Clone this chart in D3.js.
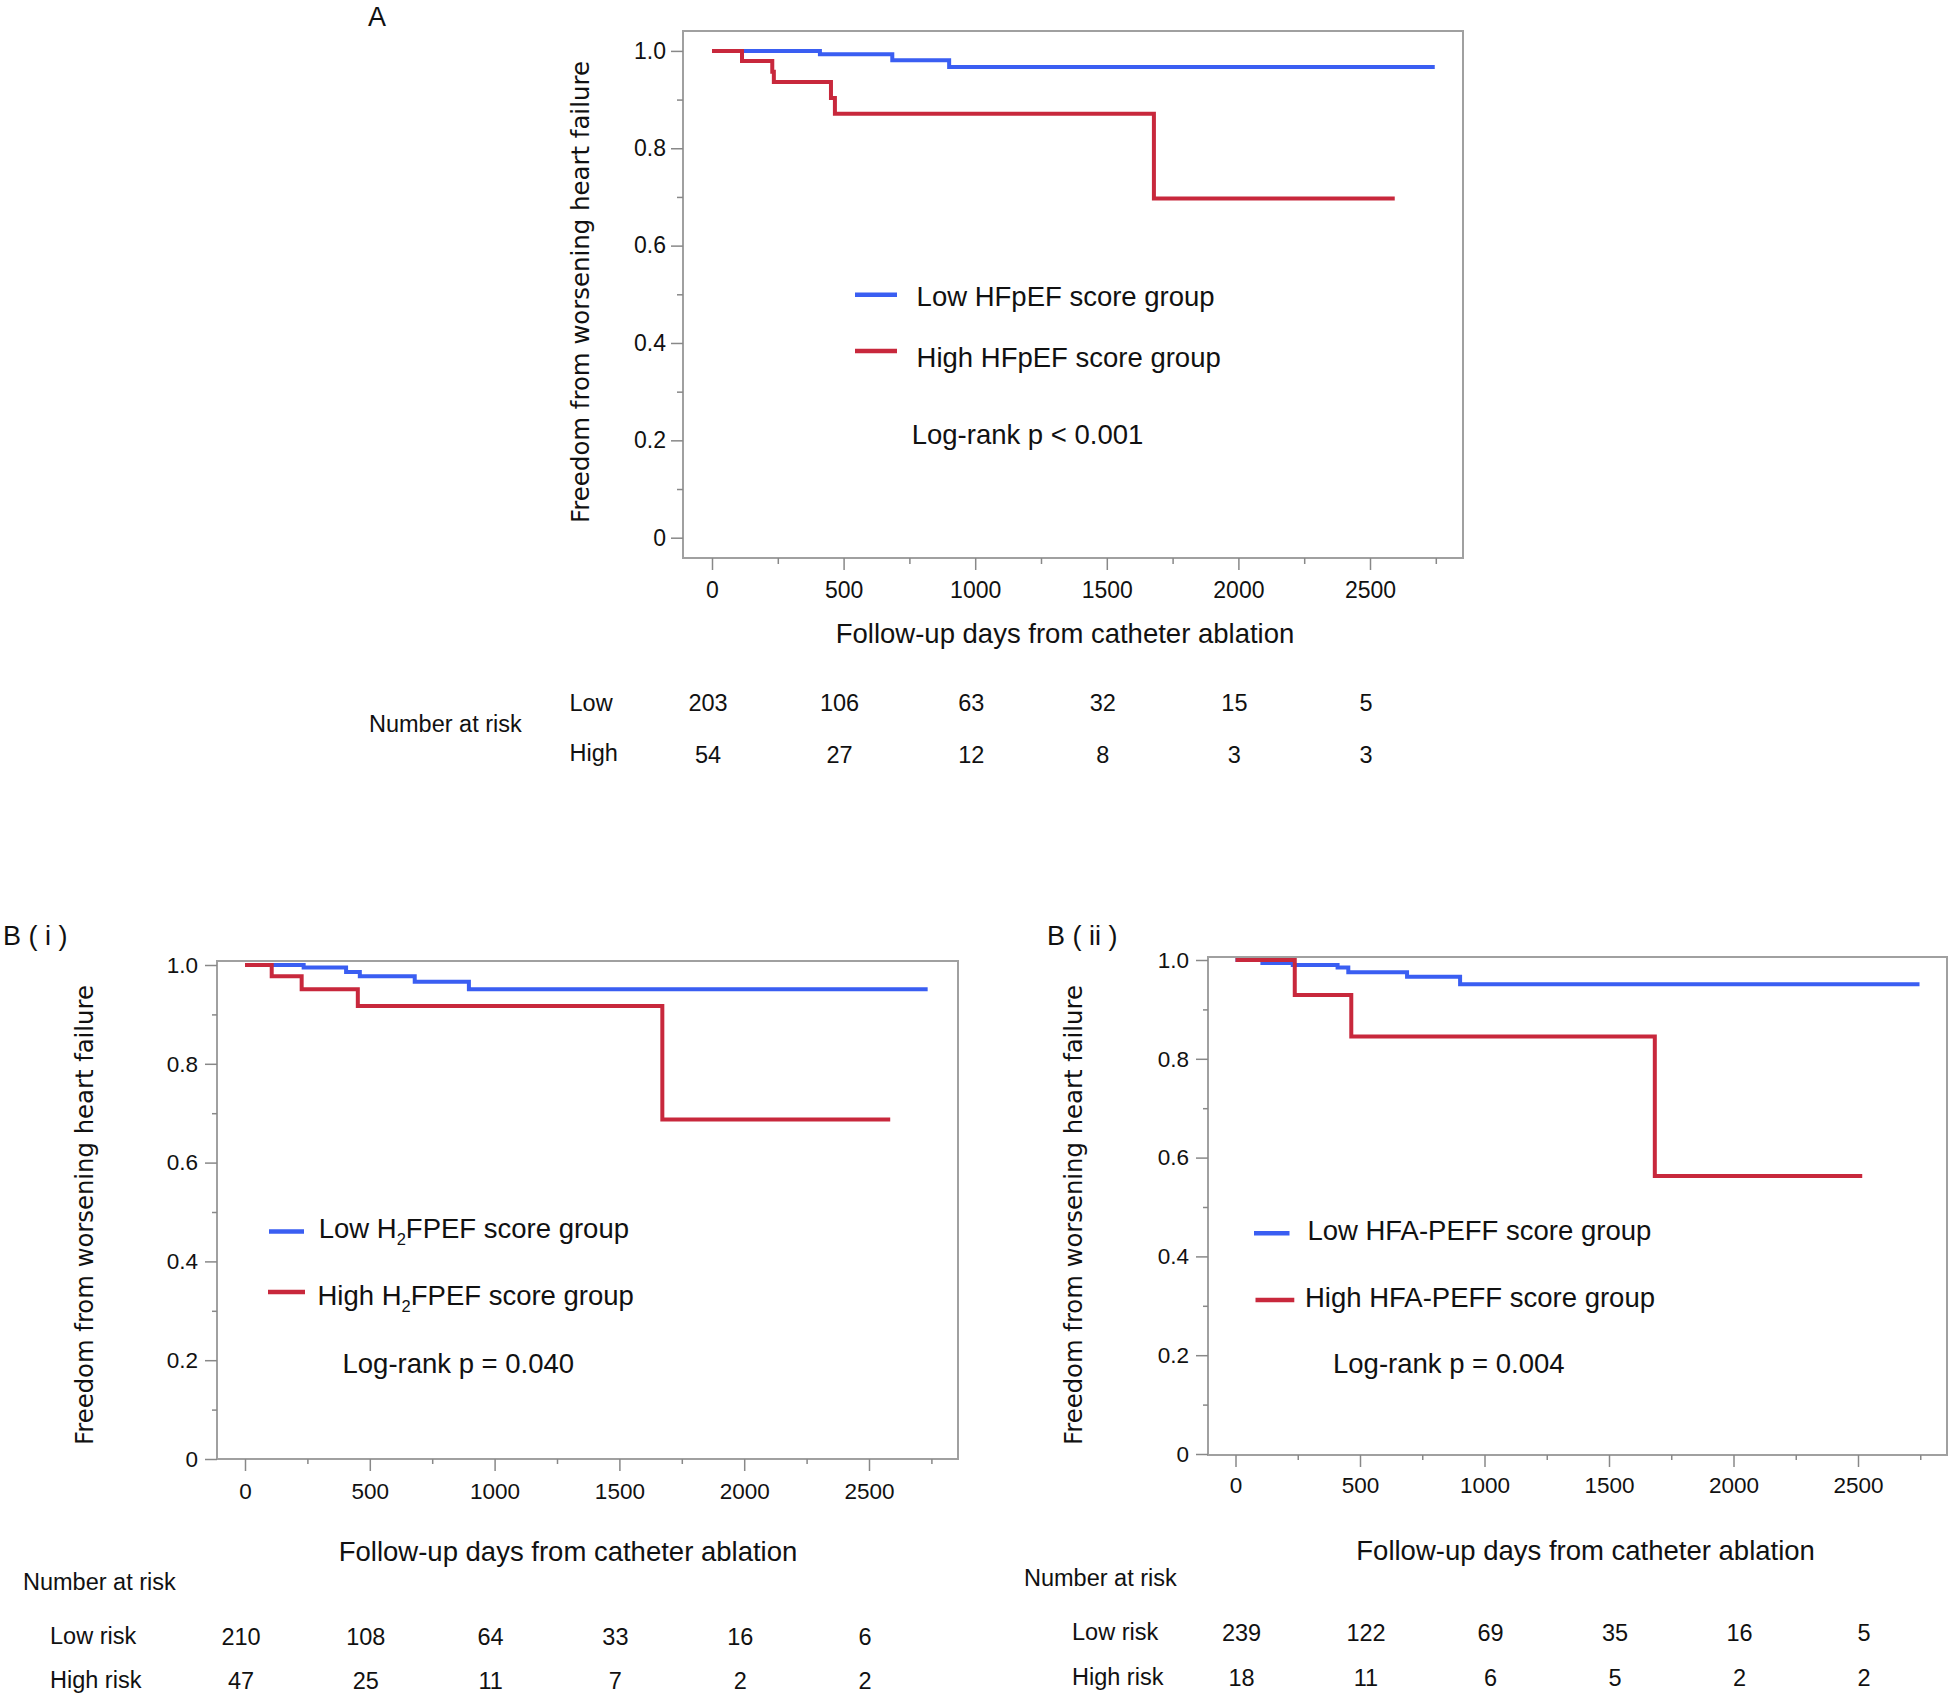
<!DOCTYPE html>
<html>
<head>
<meta charset="utf-8">
<script src="https://cdn.jsdelivr.net/npm/d3@7"></script>
<style>
  html, body { margin: 0; padding: 0; background: #fff; }
  svg { display: block; }
  text { font-family: "Liberation Sans", Arial, sans-serif; fill: #111; }
</style>
</head>
<body>
<svg id="chart" width="1955" height="1699"></svg>
<script>
// ---------------- DATA ----------------
const xTickValues = [0, 500, 1000, 1500, 2000, 2500];
const xMinorTicks = [250, 750, 1250, 1750, 2250, 2750];
const yTickValues = [0, 0.2, 0.4, 0.6, 0.8, 1.0];
const yTickLabels = ["0", "0.2", "0.4", "0.6", "0.8", "1.0"];
const yMinorTicks = [0.1, 0.3, 0.5, 0.7, 0.9];
const riskTimes = [0, 500, 1000, 1500, 2000, 2500];

// Panel A (HFpEF score)
const aLowTimes  = [0, 410, 685, 901, 2746];
const aLowSurv   = [1.0, 0.993, 0.981, 0.967, 0.967];
const aHighTimes = [0, 114, 229, 235, 452, 467, 1679, 2594];
const aHighSurv  = [1.0, 0.979, 0.957, 0.936, 0.903, 0.871, 0.697, 0.697];
const aRiskLow   = [203, 106, 63, 32, 15, 5];
const aRiskHigh  = [54, 27, 12, 8, 3, 3];

// Panel B(i) (H2FPEF score)
const biLowTimes  = [0, 235, 405, 460, 680, 897, 2735];
const biLowSurv   = [1.0, 0.995, 0.986, 0.977, 0.966, 0.951, 0.951];
const biHighTimes = [0, 107, 227, 452, 1672, 2585];
const biHighSurv  = [1.0, 0.977, 0.951, 0.917, 0.687, 0.687];
const biRiskLow   = [210, 108, 64, 33, 16, 6];
const biRiskHigh  = [47, 25, 11, 7, 2, 2];

// Panel B(ii) (HFA-PEFF score)
const biiLowTimes  = [0, 108, 230, 410, 453, 689, 902, 2747];
const biiLowSurv   = [1.0, 0.994, 0.990, 0.985, 0.975, 0.966, 0.951, 0.951];
const biiHighTimes = [0, 238, 465, 1684, 2517];
const biiHighSurv  = [1.0, 0.929, 0.845, 0.563, 0.563];
const biiRiskLow   = [239, 122, 69, 35, 16, 5];
const biiRiskHigh  = [18, 11, 6, 5, 2, 2];

const lowColor = "#3a5ef2";
const highColor = "#c8283c";

// ---------------- DRAW ----------------
const svg = d3.select("#chart");

function drawPanel(cfg) {
  const g = svg.append("g");
  const x = d3.scaleLinear().domain([0, 2500]).range([cfg.x0, cfg.x2500]);
  const y = d3.scaleLinear().domain([0, 1]).range([cfg.y0, cfg.y1]);

  // frame
  g.append("rect")
    .attr("x", cfg.box[0]).attr("y", cfg.box[1])
    .attr("width", cfg.box[2] - cfg.box[0]).attr("height", cfg.box[3] - cfg.box[1])
    .attr("fill", "none").attr("stroke", "#a0a0a0").attr("stroke-width", 2);

  // y axis (major + minor)
  const yAx = g.append("g").attr("transform", `translate(${cfg.box[0]},0)`)
    .call(d3.axisLeft(y).tickValues(yTickValues)
      .tickFormat((d, i) => yTickLabels[i]).tickSize(cfg.majorTick).tickPadding(cfg.yPad));
  yAx.select(".domain").remove();
  yAx.selectAll("line").attr("stroke", "#888").attr("stroke-width", 1.5);
  yAx.selectAll("text").attr("font-size", cfg.tickFont).attr("font-family", "Liberation Sans, Arial, sans-serif").attr("fill", "#111");
  const yMin = g.append("g").attr("transform", `translate(${cfg.box[0]},0)`)
    .call(d3.axisLeft(y).tickValues(yMinorTicks).tickFormat("").tickSize(cfg.minorTick));
  yMin.select(".domain").remove();
  yMin.selectAll("line").attr("stroke", "#888").attr("stroke-width", 1.5);

  // x axis
  const xAx = g.append("g").attr("transform", `translate(0,${cfg.box[3]})`)
    .call(d3.axisBottom(x).tickValues(xTickValues).tickFormat(d3.format("d"))
      .tickSize(cfg.majorTick).tickPadding(cfg.xPad));
  xAx.select(".domain").remove();
  xAx.selectAll("line").attr("stroke", "#888").attr("stroke-width", 1.5);
  xAx.selectAll("text").attr("font-size", cfg.tickFont).attr("font-family", "Liberation Sans, Arial, sans-serif").attr("fill", "#111");
  const xMin = g.append("g").attr("transform", `translate(0,${cfg.box[3]})`)
    .call(d3.axisBottom(x).tickValues(xMinorTicks).tickFormat("").tickSize(cfg.minorTick));
  xMin.select(".domain").remove();
  xMin.selectAll("line").attr("stroke", "#888").attr("stroke-width", 1.5);

  // curves
  const line = d3.line().x(d => x(d[0])).y(d => y(d[1])).curve(d3.curveStepAfter);
  const hi = cfg.highTimes.map((t, i) => [t, cfg.highSurv[i]]);
  const lo = cfg.lowTimes.map((t, i) => [t, cfg.lowSurv[i]]);
  g.append("path").datum(lo).attr("d", line).attr("fill", "none")
    .attr("stroke", lowColor).attr("stroke-width", 4);
  g.append("path").datum(hi).attr("d", line).attr("fill", "none")
    .attr("stroke", highColor).attr("stroke-width", 4);

  // legend
  const L = cfg.legend;
  g.append("line").attr("x1", L.lowLine[0]).attr("x2", L.lowLine[1])
    .attr("y1", L.lowLine[2]).attr("y2", L.lowLine[2])
    .attr("stroke", lowColor).attr("stroke-width", 4.5);
  g.append("line").attr("x1", L.highLine[0]).attr("x2", L.highLine[1])
    .attr("y1", L.highLine[2]).attr("y2", L.highLine[2])
    .attr("stroke", highColor).attr("stroke-width", 4.5);
  function legendText(xp, yp, parts) {
    const t = g.append("text").attr("x", xp).attr("y", yp).attr("font-size", L.font);
    parts.forEach(p => {
      const s = t.append("tspan").text(p.t);
      if (p.sub) s.attr("font-size", L.font * 0.6).attr("dy", 7);
      if (p.after) s.attr("dy", -7);
    });
  }
  legendText(L.lowText[0], L.lowText[1], L.lowParts);
  legendText(L.highText[0], L.highText[1], L.highParts);
  g.append("text").attr("x", L.pText[0]).attr("y", L.pText[1]).attr("font-size", L.font).text(L.pLabel);

  // y-axis title
  const yt = g.append("text")
    .attr("transform", `translate(${cfg.yTitle[0]},${cfg.yTitle[1]}) rotate(-90)`)
    .attr("text-anchor", "middle")
    .style("font-family", "'DejaVu Sans', Verdana, sans-serif")
    .attr("font-size", 24)
    .text("Freedom from worsening heart failure");
  const w = yt.node().getComputedTextLength();
  yt.attr("font-size", 24 * cfg.yTitleLen / w);

  // x-axis title
  g.append("text").attr("x", cfg.xTitle[0]).attr("y", cfg.xTitle[1])
    .attr("text-anchor", "middle").attr("font-size", cfg.titleFont)
    .text("Follow-up days from catheter ablation");

  // panel label
  g.append("text").attr("x", cfg.label[0]).attr("y", cfg.label[1])
    .attr("font-size", cfg.labelFont).style("white-space", "pre").text(cfg.labelText);

  // number at risk
  const R = cfg.risk;
  g.append("text").attr("x", R.head[0]).attr("y", R.head[1]).attr("font-size", R.font).text("Number at risk");
  g.append("text").attr("x", R.rowX).attr("y", R.lowY).attr("font-size", R.font).text(R.lowLabel);
  g.append("text").attr("x", R.rowX).attr("y", R.highY).attr("font-size", R.font).text(R.highLabel);
  g.selectAll(null).data(cfg.riskLow).enter().append("text")
    .attr("x", (d, i) => x(riskTimes[i]) + R.dx).attr("y", R.lowNumY)
    .attr("text-anchor", "middle").attr("font-size", R.font).text(d => d);
  g.selectAll(null).data(cfg.riskHigh).enter().append("text")
    .attr("x", (d, i) => x(riskTimes[i]) + R.dx).attr("y", R.highNumY)
    .attr("text-anchor", "middle").attr("font-size", R.font).text(d => d);
}

drawPanel({
  x0: 712, x2500: 1370, y0: 537.7, y1: 50.9,
  box: [683, 31, 1463, 558],
  majorTick: 12, minorTick: 6, yPad: 5, xPad: 12, tickFont: 23,
  lowTimes: aLowTimes, lowSurv: aLowSurv, highTimes: aHighTimes, highSurv: aHighSurv,
  legend: {
    font: 27.5,
    lowLine: [855, 897, 294.7], highLine: [855, 897, 351],
    lowText: [916.6, 306], highText: [916.6, 367],
    lowParts: [{t: "Low HFpEF score group"}],
    highParts: [{t: "High HFpEF score group"}],
    pText: [911.7, 444], pLabel: "Log-rank p < 0.001"
  },
  yTitle: [589, 292], yTitleLen: 462,
  xTitle: [1065, 643], titleFont: 27.5,
  label: [368, 26], labelFont: 27, labelText: "A",
  riskLow: aRiskLow, riskHigh: aRiskHigh,
  risk: { font: 23.5, head: [369, 731.5], rowX: 569.5, lowLabel: "Low", highLabel: "High",
          lowY: 711, highY: 761, lowNumY: 711, highNumY: 763, dx: -4 }
});

drawPanel({
  x0: 245, x2500: 869, y0: 1459, y1: 965,
  box: [217, 961, 958, 1459],
  majorTick: 12, minorTick: 5, yPad: 7, xPad: 12, tickFont: 22.5,
  lowTimes: biLowTimes, lowSurv: biLowSurv, highTimes: biHighTimes, highSurv: biHighSurv,
  legend: {
    font: 27.5,
    lowLine: [269, 304, 1231.4], highLine: [268, 305, 1292],
    lowText: [318.7, 1237.5], highText: [317.5, 1305],
    lowParts: [{t: "Low H"}, {t: "2", sub: true}, {t: "FPEF score group", after: true}],
    highParts: [{t: "High H"}, {t: "2", sub: true}, {t: "FPEF score group", after: true}],
    pText: [342.5, 1373], pLabel: "Log-rank p = 0.040"
  },
  yTitle: [93, 1215], yTitleLen: 460,
  xTitle: [568, 1561], titleFont: 27.5,
  label: [3, 945], labelFont: 27, labelText: "B ( i )",
  riskLow: biRiskLow, riskHigh: biRiskHigh,
  risk: { font: 23.5, head: [23, 1590], rowX: 50, lowLabel: "Low risk", highLabel: "High risk",
          lowY: 1644, highY: 1688, lowNumY: 1645, highNumY: 1689, dx: -4 }
});

drawPanel({
  x0: 1235.5, x2500: 1858, y0: 1454, y1: 960,
  box: [1208, 957, 1947, 1455],
  majorTick: 12, minorTick: 5, yPad: 7, xPad: 10, tickFont: 22.5,
  lowTimes: biiLowTimes, lowSurv: biiLowSurv, highTimes: biiHighTimes, highSurv: biiHighSurv,
  legend: {
    font: 27.5,
    lowLine: [1254, 1289.5, 1233.2], highLine: [1255.5, 1294.3, 1300],
    lowText: [1307.4, 1240], highText: [1305, 1307],
    lowParts: [{t: "Low HFA-PEFF score group"}],
    highParts: [{t: "High HFA-PEFF score group"}],
    pText: [1333, 1373], pLabel: "Log-rank p = 0.004"
  },
  yTitle: [1082, 1215], yTitleLen: 460,
  xTitle: [1585.6, 1560], titleFont: 27.5,
  label: [1047, 945], labelFont: 27, labelText: "B ( ii )",
  riskLow: biiRiskLow, riskHigh: biiRiskHigh,
  risk: { font: 23.5, head: [1024, 1586], rowX: 1072, lowLabel: "Low risk", highLabel: "High risk",
          lowY: 1639.5, highY: 1685, lowNumY: 1641, highNumY: 1686, dx: 6 }
});
</script>
</body>
</html>
